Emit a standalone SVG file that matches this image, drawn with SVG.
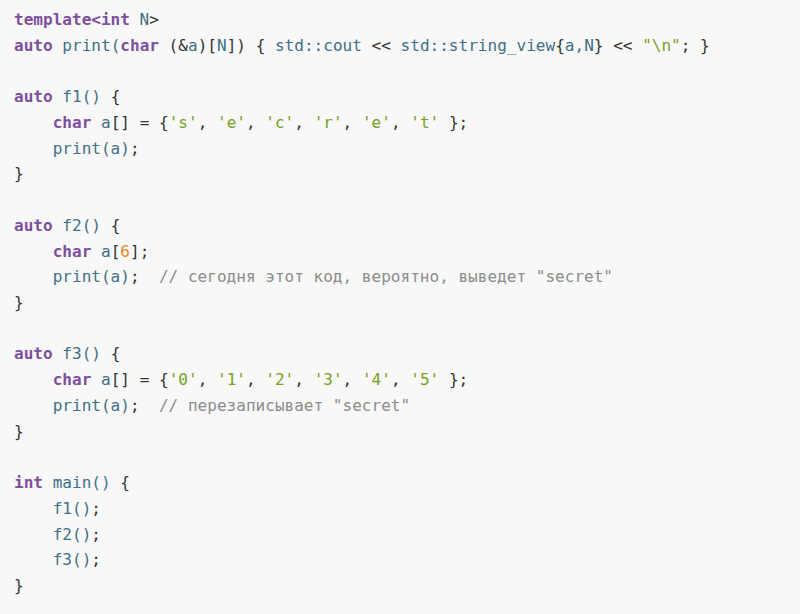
<svg xmlns="http://www.w3.org/2000/svg" width="800" height="614" viewBox="0 0 800 614" xml:space="preserve">
<style>
text{font-family:"DejaVu Sans Mono","Liberation Mono",monospace;font-size:16px;fill:#333333;white-space:pre}
.k{fill:#7d4f9c;font-weight:bold}
.i{fill:#3f6f86}
.s{fill:#76a11e}
.n{fill:#e8871e}
.c{fill:#8c8c8c}
</style>
<rect width="800" height="614" fill="#f8f8f8"/>
<g id="code" transform="translate(14,0) scale(1.004,1)">
<text x="0" y="25"><tspan class="k">template&lt;int</tspan><tspan class="i"> N</tspan>&gt;</text>
<text x="0" y="50.7"><tspan class="k">auto</tspan> <tspan class="i">print(</tspan><tspan class="k">char</tspan> (&amp;<tspan class="i">a</tspan>)[<tspan class="i">N</tspan>]) { <tspan class="i">std::cout</tspan> &lt;&lt; <tspan class="i">std::string_view</tspan>{<tspan class="i">a,N</tspan>} &lt;&lt; <tspan class="s">"\n"</tspan>; }</text>
<text x="0" y="102.2"><tspan class="k">auto</tspan> <tspan class="i">f1()</tspan> {</text>
<text x="0" y="127.9">    <tspan class="k">char</tspan> <tspan class="i">a</tspan>[] = {<tspan class="s">'s'</tspan>, <tspan class="s">'e'</tspan>, <tspan class="s">'c'</tspan>, <tspan class="s">'r'</tspan>, <tspan class="s">'e'</tspan>, <tspan class="s">'t'</tspan> };</text>
<text x="0" y="153.6">    <tspan class="i">print(a)</tspan>;</text>
<text x="0" y="179.4">}</text>
<text x="0" y="230.8"><tspan class="k">auto</tspan> <tspan class="i">f2()</tspan> {</text>
<text x="0" y="256.6">    <tspan class="k">char</tspan> <tspan class="i">a</tspan>[<tspan class="n">6</tspan>];</text>
<text x="0" y="282.3">    <tspan class="i">print(a)</tspan>;  <tspan class="c">// сегодня этот код, вероятно, выведет "secret"</tspan></text>
<text x="0" y="308">}</text>
<text x="0" y="359.5"><tspan class="k">auto</tspan> <tspan class="i">f3()</tspan> {</text>
<text x="0" y="385.2">    <tspan class="k">char</tspan> <tspan class="i">a</tspan>[] = {<tspan class="s">'0'</tspan>, <tspan class="s">'1'</tspan>, <tspan class="s">'2'</tspan>, <tspan class="s">'3'</tspan>, <tspan class="s">'4'</tspan>, <tspan class="s">'5'</tspan> };</text>
<text x="0" y="411">    <tspan class="i">print(a)</tspan>;  <tspan class="c">// перезаписывает "secret"</tspan></text>
<text x="0" y="436.7">}</text>
<text x="0" y="488.1"><tspan class="k">int</tspan> <tspan class="i">main()</tspan> {</text>
<text x="0" y="513.9">    <tspan class="i">f1()</tspan>;</text>
<text x="0" y="539.6">    <tspan class="i">f2()</tspan>;</text>
<text x="0" y="565.3">    <tspan class="i">f3()</tspan>;</text>
<text x="0" y="591.1">}</text>
</g>
</svg>
